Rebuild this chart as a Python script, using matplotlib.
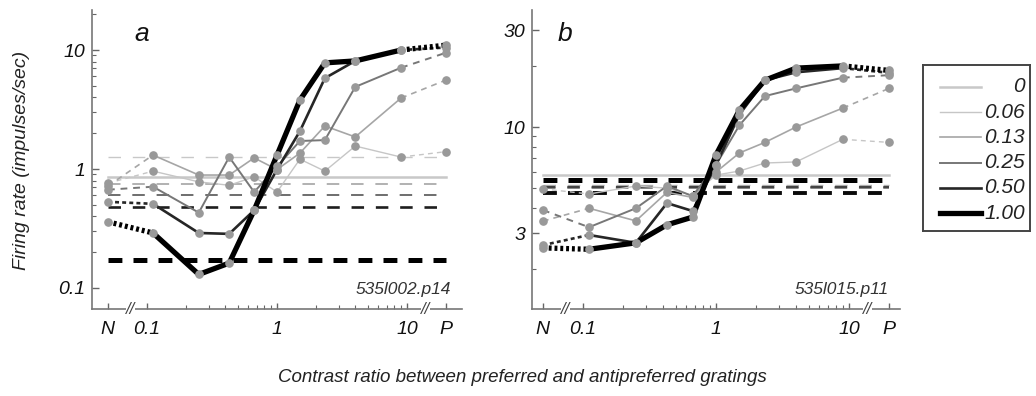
import numpy as np
import matplotlib
matplotlib.use("Agg")
import matplotlib.pyplot as plt
from matplotlib.ticker import FixedLocator, NullFormatter

plt.rcParams['font.family'] = ['Liberation Sans', 'DejaVu Sans']
plt.rcParams['font.style'] = 'italic'

# x positions: N, 1/9, 1/4, 3/7, 2/3, 1, 3/2, 7/3, 4, 9, P
N_POS, P_POS = 0.05, 20.0
ratios = [N_POS, 1/9, 1/4, 3/7, 2/3, 1, 3/2, 7/3, 4, 9, P_POS]

contrasts = ['0.06', '0.13', '0.25', '0.50', '1.00']

# panel a, one list per contrast of the antipreferred grating
a_006 = [0.76, 0.96, 0.78, 0.73, 0.86, 0.64, 1.21, 0.96, 1.56, 1.26, 1.40]
a_013 = [0.72, 1.31, 0.89, 0.89, 1.24, 0.99, 1.36, 2.30, 1.86, 3.95, 5.6]
a_025 = [0.67, 0.71, 0.43, 1.26, 0.64, 1.05, 1.72, 1.75, 4.9, 7.1, 9.5]
a_050 = [0.53, 0.51, 0.29, 0.285, 0.45, 0.99, 2.08, 5.8, 8.1, 10.0, 10.5]
a_100 = [0.36, 0.29, 0.13, 0.162, 0.45, 1.31, 3.8, 7.8, 8.1, 10.0, 11.0]
a_base = {'0': 0.857, '0.06': 1.26, '0.13': 0.75, '0.25': 0.605, '0.50': 0.48, '1.00': 0.172}

# panel b
b_006 = [4.96, 4.68, 5.12, 5.0, 4.6, 5.8, 6.07, 6.65, 6.73, 8.7, 8.4]
b_013 = [3.44, 3.98, 3.45, 4.77, 4.5, 6.0, 7.45, 8.4, 10.0, 12.4, 15.5]
b_025 = [3.9, 3.21, 3.98, 5.12, 4.57, 6.5, 10.2, 14.2, 15.5, 17.5, 18.0]
b_050 = [2.62, 2.94, 2.69, 4.22, 3.86, 6.5, 11.5, 17.0, 18.6, 19.5, 18.5]
b_100 = [2.54, 2.50, 2.69, 3.30, 3.60, 7.28, 12.1, 17.0, 19.5, 20.0, 19.0]
b_base = {'0': 5.8, '0.06': 5.18, '0.13': 5.02, '0.25': 5.08, '0.50': 4.74, '1.00': 5.48}

styles = {
    '0':    dict(color='#c8c8c8', lw=1.8),
    '0.06': dict(color='#c6c6c6', lw=1.0),
    '0.13': dict(color='#a6a6a6', lw=1.2),
    '0.25': dict(color='#777777', lw=1.4),
    '0.50': dict(color='#262626', lw=1.9),
    '1.00': dict(color='#000000', lw=3.8),
}
# colour and width of the dashed baselines, per panel
a_dash = {'0.06': ('#c8c8c8', 1.0), '0.13': ('#a4a4a4', 1.2), '0.25': ('#6e6e6e', 1.4),
          '0.50': ('#1e1e1e', 1.9), '1.00': ('#000000', 3.6)}
b_dash = {'0.06': ('#bbbbbb', 1.0), '0.13': ('#888888', 1.3), '0.25': ('#444444', 1.6),
          '0.50': ('#0a0a0a', 2.8), '1.00': ('#000000', 3.6)}

fig = plt.figure(figsize=(10.36, 3.96), dpi=100)
ax_a = fig.add_axes([92/1036, 1-309/396, 370/1036, 299/396])
ax_b = fig.add_axes([532/1036, 1-309/396, 368/1036, 299/396])


def draw_panel(ax, series, base, dash, xlim, ylim, yticks, yticklabels, yminor, tag,
               letter, letter_x):
    ax.set_xscale('log')
    ax.set_yscale('log')
    ax.set_xlim(*xlim)
    ax.set_ylim(*ylim)
    # baselines (response to each grating alone)
    st0 = styles['0']
    ax.plot([N_POS, P_POS], [base['0']] * 2, color=st0['color'], lw=st0['lw'], zorder=1)
    for c in contrasts:
        col, lw = dash[c]
        on = 9.0 if lw < 2.5 else 10.0
        off = 8.5 if lw < 2.5 else 8.0
        ax.plot([N_POS, P_POS], [base[c]] * 2, color=col, lw=lw,
                linestyle=(0, (on / lw, off / lw)), zorder=2)
    # curves
    for c, vals in zip(contrasts, series):
        st = styles[c]
        lw = st['lw']
        ax.plot(ratios[1:-1], vals[1:-1], color=st['color'], lw=lw, zorder=3,
                solid_joinstyle='round')
        if c == '1.00':
            ls = (0, (0.55, 0.55))
        elif c == '0.50':
            ls = (0, (1.5, 1.2))
        else:
            ls = (0, (3.5, 3.0))
        ax.plot(ratios[:2], vals[:2], color=st['color'], lw=lw, linestyle=ls, zorder=3)
        ax.plot(ratios[-2:], vals[-2:], color=st['color'], lw=lw, linestyle=ls, zorder=3)
        ax.plot(ratios, vals, linestyle='none', marker='o', ms=5.2,
                mfc='#999999', mec='#999999', zorder=4)

    for s in ['top', 'right']:
        ax.spines[s].set_visible(False)
    for s in ['left', 'bottom']:
        ax.spines[s].set_color('#777777')
        ax.spines[s].set_linewidth(1.2)

    ax.xaxis.set_major_locator(FixedLocator([N_POS, 0.1, 1, 10, P_POS]))
    ax.set_xticklabels(['N', '0.1', '1', '10', 'P'])
    minors = [k * 0.1 for k in range(2, 10)] + [float(k) for k in range(2, 10)]
    ax.xaxis.set_minor_locator(FixedLocator(minors))
    ax.xaxis.set_minor_formatter(NullFormatter())
    ax.yaxis.set_major_locator(FixedLocator(yticks))
    ax.set_yticklabels(yticklabels)
    ax.yaxis.set_minor_locator(FixedLocator(yminor))
    ax.yaxis.set_minor_formatter(NullFormatter())
    ax.tick_params(which='both', direction='in', color='#666666')
    ax.tick_params(which='major', length=5, width=1, labelsize=14, labelcolor='#111111')
    ax.tick_params(which='minor', length=3, width=0.8)
    ax.tick_params(axis='x', which='major', pad=9, length=4)
    ax.tick_params(axis='y', which='major', pad=5)
    ax.set_facecolor('none')

    # axis breaks on the bottom spine
    for xb in [np.sqrt(N_POS * 0.1) * 1.05, np.sqrt(10 * P_POS) * 0.98]:
        ax.text(xb, 0.0, '//', transform=ax.get_xaxis_transform(), ha='center', va='center',
                fontsize=12, color='#444444',
                bbox=dict(boxstyle='square,pad=0.0', fc='white', ec='none'), zorder=6,
                clip_on=False)

    ax.text(0.97, 0.04, tag, transform=ax.transAxes, ha='right', va='bottom',
            fontsize=12.5, color='#333333')
    ax.text(letter_x, 0.92, letter, transform=ax.transAxes, ha='left', va='center',
            fontsize=19, color='#111111')


draw_panel(ax_a, [a_006, a_013, a_025, a_050, a_100], a_base, a_dash,
           (0.0377, 26.5), (0.0666, 21.7), [0.1, 1, 10], ['0.1', '1', '10'],
           [k * 0.1 for k in range(2, 10)] + [float(k) for k in range(2, 10)] + [20.0],
           '535l002.p14', 'a', 0.115)
draw_panel(ax_b, [b_006, b_013, b_025, b_050, b_100], b_base, b_dash,
           (0.0414, 24.2), (1.27, 37.7), [3, 10, 30], ['3', '10', '30'],
           [2, 4, 5, 6, 7, 8, 9, 20],
           '535l015.p11', 'b', 0.07)

fig.text(22/1036, 1-160/396, 'Firing rate (impulses/sec)', rotation=90,
         ha='center', va='center', fontsize=14, color='#222222')
fig.text(522/1036, 1-378/396, 'Contrast ratio between preferred and antipreferred gratings',
         ha='center', va='center', fontsize=13.5, color='#222222')

# legend box
leg = fig.add_axes([923/1036, 1-231/396, 107/1036, 166/396])
leg.set_xlim(0, 107)
leg.set_ylim(166, 0)
leg.set_xticks([])
leg.set_yticks([])
for s in leg.spines.values():
    s.set_color('#444444')
    s.set_linewidth(1.4)
labels = ['0'] + contrasts
for i, lab in enumerate(labels):
    y = 22 + i * 25.2
    st = styles[lab]
    leg.plot([17, 58], [y, y], color=st['color'], lw=st['lw'])
    leg.text(102, y, lab, ha='right', va='center', fontsize=15, color='#222222')

fig.savefig('out.png', dpi=100)
